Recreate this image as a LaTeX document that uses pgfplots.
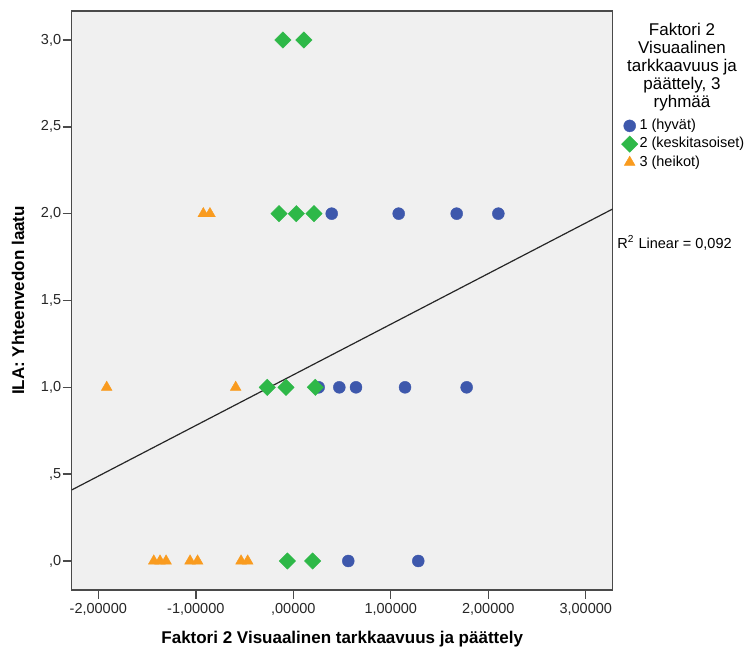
\documentclass[border=0pt]{standalone}
\usepackage{fontspec}
\setmainfont{Liberation Sans}
\usepackage{pgfplots}
\pgfplotsset{compat=1.18}
\definecolor{grp1}{HTML}{3E58AC}
\definecolor{grp2}{HTML}{2EB848}
\definecolor{grp3}{HTML}{F99B1F}
\definecolor{plotbg}{HTML}{F0F0F0}
\definecolor{axisgray}{HTML}{4A4A4A}
\begin{document}
\begin{tikzpicture}
\begin{axis}[
  name=ax, at={(0,0)}, anchor=south west,
  scale only axis, width=270.5pt, height=289.5pt,
  xmin=-2.273, xmax=3.276, ymin=-0.167, ymax=3.167,
  axis background/.style={fill=plotbg},
  axis line style={axisgray, line width=0.8pt},
  xtick={-2,-1,0,1,2,3},
  xticklabels={{-2,00000},{-1,00000},{,00000},{1,00000},{2,00000},{3,00000}},
  ytick={0,0.5,1,1.5,2,2.5,3},
  yticklabels={{,0},{,5},{1,0},{1,5},{2,0},{2,5},{3,0}},
  xtick pos=bottom, ytick pos=left,
  tick align=outside, major tick length=4.5pt,
  tick style={axisgray, line width=0.7pt},
  ticklabel style={font=\fontsize{7.25}{8.5}\selectfont, text=black!85},
  xticklabel style={inner sep=1pt, yshift=-1pt},
  yticklabel style={inner sep=0.6pt},
  xlabel={Faktori 2 Visuaalinen tarkkaavuus ja päättely},
  ylabel={ILA: Yhteenvedon laatu},
  xlabel style={font=\fontsize{8.5}{10}\selectfont\bfseries, at={(rel axis cs:0.5,0)}, anchor=center, yshift=-24.5pt},
  ylabel style={font=\fontsize{8.5}{10}\selectfont\bfseries, at={(rel axis cs:0,0.5)}, anchor=center, rotate=0, yshift=26.85pt},
  legend style={at={(axis description cs:1,1)}, anchor=north west, xshift=4.2pt, yshift=-53pt,
    draw=none, fill=none, inner sep=0pt, row sep=0.6pt,
    font=\fontsize{7.25}{8.5}\selectfont,
    nodes={inner sep=0.8pt, text height=5.4pt, text depth=1.5pt}},
  legend cell align=left,
  legend image code/.code={\draw[mark repeat=2,mark phase=2,#1] plot coordinates {(0pt,0pt) (4pt,0pt) (8pt,0pt)};},
  clip=true,
]
\addplot[only marks, mark=*, mark size=3pt, mark options={fill=grp1, draw=grp1, line width=0.2pt}] coordinates {
  (0.394,2) (1.081,2) (1.676,2) (2.103,2)
  (0.260,1) (0.472,1) (0.643,1) (1.146,1) (1.778,1)
  (0.564,0) (1.282,0)
};
\addlegendentry{1 (hyvät)}
\addplot[only marks, mark=square*, mark size=2.9pt, mark options={rotate=45, fill=grp2, draw=grp2, line width=0.2pt}] coordinates {
  (-0.106,3) (0.109,3)
  (-0.146,2) (0.031,2) (0.212,2)
  (-0.267,1) (-0.075,1) (0.226,1)
  (-0.061,0) (0.199,0)
};
\addlegendentry{2 (keskitasoiset)}
\addplot[only marks, mark=triangle*, mark size=3.1pt, mark options={fill=grp3, draw=grp3, line width=0.2pt}] coordinates {
  (-0.923,2) (-0.855,2)
  (-1.914,1) (-0.591,1)
  (-1.431,0) (-1.367,0) (-1.305,0) (-1.059,0) (-0.982,0) (-0.536,0) (-0.468,0)
};
\addlegendentry{3 (heikot)}
\addplot[forget plot, black!85, line width=0.6pt] coordinates {(-2.273,0.409) (3.276,2.027)};
\end{axis}
\node[font=\fontsize{8.5}{9}\selectfont, align=center, inner sep=0pt] at (305.15pt,261.5pt)
  {Faktori 2\\Visuaalinen\\tarkkaavuus ja\\päättely, 3\\ryhmää};
\node[font=\fontsize{7.25}{8.5}\selectfont, anchor=base west, inner sep=0pt] at (272.65pt,170.5pt)
  {R\textsuperscript{2} Linear = 0,092};
\pgfresetboundingbox
\useasboundingbox (-35.85pt,-31.5pt) rectangle (337.15pt,295pt);
\end{tikzpicture}
\end{document}
